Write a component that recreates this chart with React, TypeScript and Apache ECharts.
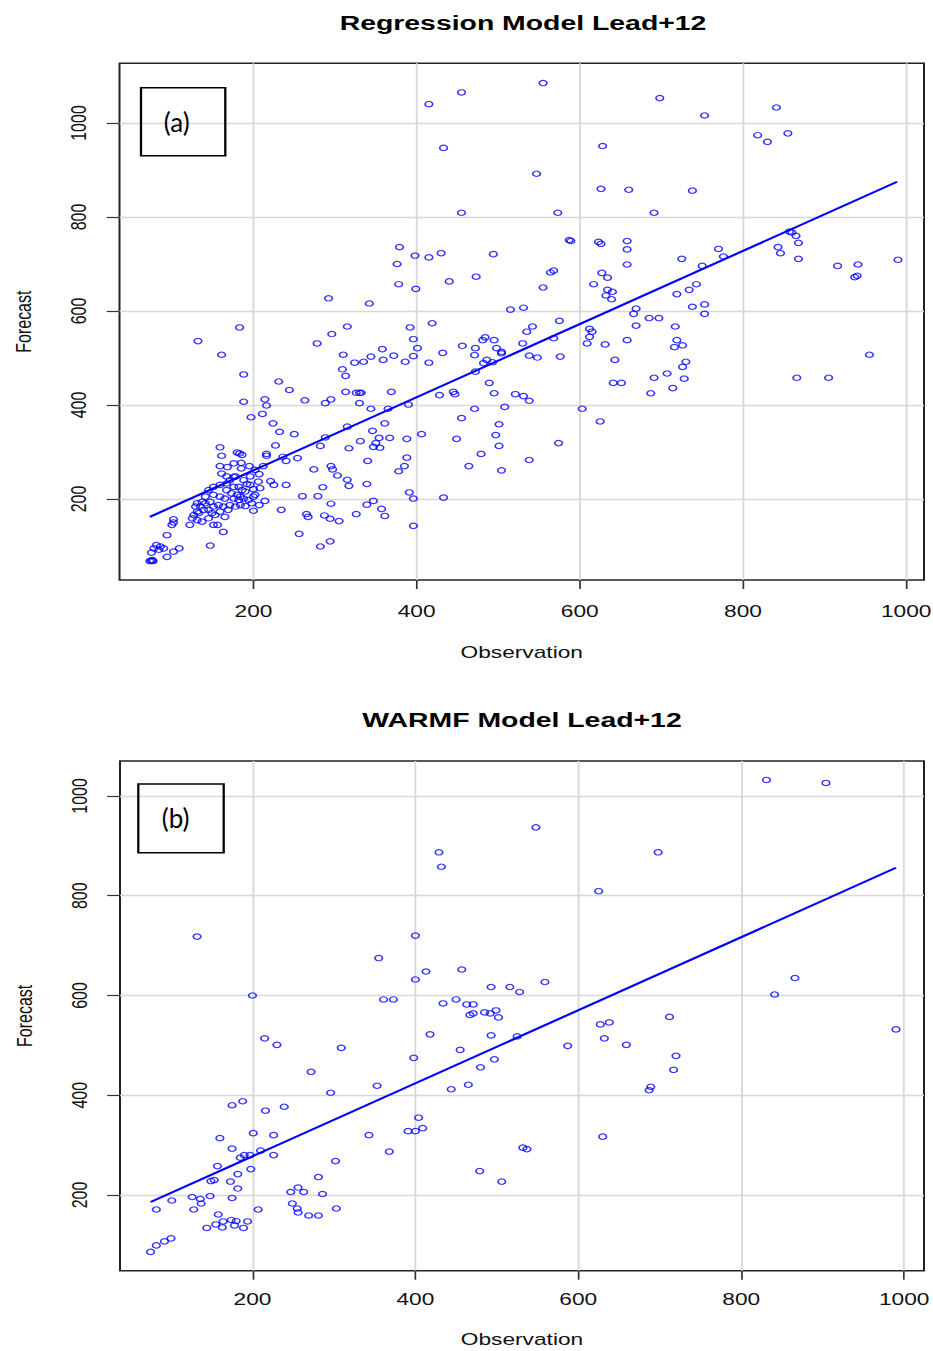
import React, { useEffect, useRef } from "react";
import * as echarts from "echarts";

// The reference image is horizontally stretched; render narrow and stretch with CSS.
const S = 1.42;
const W = 933 / S;
const H = 1351;
const FONT = "'Liberation Sans', Arial, sans-serif";

const titleA = "Regression Model Lead+12";
const titleB = "WARMF Model Lead+12";
const xName = "Observation";
const yName = "Forecast";
const tickValues = [200, 400, 600, 800, 1000];

// [Observation, Forecast] — Regression model
const regressionPoints: number[][] = [
  [379,736],[398,718],[376,700],[378,657],[399,647],[292,627],[342,616],[183,565],[315,567],[392,565],
  [415,1040],[455,1065],[555,1085],[698,1053],[753,1016],[433,947],[628,951],[547,892],[626,860],[660,858],
  [738,856],[455,809],[573,809],[691,809],[587,751],[589,749],[623,747],[626,743],[658,749],[658,731],
  [658,699],[725,711],[770,732],[750,696],[415,714],[430,723],[494,721],[440,663],[473,673],[555,650],
  [564,682],[568,686],[627,681],[634,671],[617,657],[634,645],[640,641],[632,633],[639,625],[719,636],
  [734,645],[743,657],[669,605],[666,594],[685,585],[697,585],[738,609],[753,614],[753,594],[515,603],
  [531,607],[419,574],[575,579],[542,567],[669,569],[717,567],[612,562],
  [841,1033],[818,974],[830,960],[855,978],[776,716],[857,769],[860,767],[865,760],[868,745],[843,736],
  [846,723],[868,711],[916,696],[941,699],[937,672],[940,675],[990,709],
  [658,538],[719,538],[716,523],[726,527],[730,492],[726,481],[707,467],[691,458],[728,456],[651,447],
  [714,436],[687,425],[866,458],[905,458],[955,507],
  [296,551],[396,540],[401,521],[358,519],[372,505],[396,504],[386,492],[359,496],[344,503],[335,492],
  [324,490],[310,507],[309,476],[313,462],[415,490],[432,511],[456,526],[472,521],[471,506],[481,538],
  [484,544],[495,538],[498,521],[504,513],[504,510],[530,531],[535,556],[568,542],[538,505],[548,501],
  [576,503],[482,489],[486,496],[493,491],[472,471],[489,447],[495,425],[521,423],[531,419],[538,409],
  [508,396],[471,392],[455,372],[501,359],[497,336],[501,313],[479,296],[449,328],[464,270],[504,261],
  [538,283],[574,319],[603,392],[625,365],[631,529],[643,496],[641,447],[609,531],[612,545],[615,556],
  [445,428],[447,423],[428,421],[390,401],[365,392],[369,428],[344,392],[330,404],[326,426],[330,426],
  [332,426],[313,428],[295,412],[288,404],[361,361],[346,345],[354,330],[367,330],[350,319],[355,309],
  [347,311],[331,323],[317,308],[315,354],[288,331],[282,313],[388,328],[406,338],[340,281],[388,288],
  [385,270],[378,259],[295,270],[297,263],[303,250],[315,241],[317,228],[339,232],[285,225],[391,214],
  [396,201],[433,203],[295,190],[347,196],[339,188],[357,179],[361,164],[326,168],[287,165],[294,158],
  [305,153],[396,143],[294,110],[282,99],
  [132,536],[161,507],[278,531],[188,465],[231,450],[244,432],[263,410],[188,407],[214,412],[216,399],
  [211,381],[197,374],[224,361],[232,343],[250,338],[227,314],[274,263],[159,310],[161,292],[180,299],
  [186,294],[183,297],[159,270],[168,268],[176,276],[185,277],[185,265],[195,270],[161,254],[176,247],
  [216,296],[216,292],[236,290],[240,281],[254,287],[212,270],[207,253],[206,237],[208,223],[221,238],
  [225,230],[240,230],[196,230],[202,209],[200,205],[214,196],[207,187],[200,175],[234,177],[260,206],
  [279,206],[265,168],[267,162],[256,126],[147,101],
  [171,240],[178,248],[167,233],[176,226],[182,226],[167,219],[173,212],[180,209],[186,219],[190,216],
  [159,205],[165,201],[176,201],[182,198],[188,201],[194,198],[151,209],[147,194],[141,191],[137,194],
  [135,184],[129,184],[139,177],[145,177],[151,184],[157,187],[163,184],[159,173],[153,166],[149,170],
  [133,170],[127,166],[125,159],[131,155],[137,152],[122,145],[145,159],[165,162],[169,177],[171,187],
  [178,184],[184,187],[190,185],[198,191],[131,173],[151,145],[156,145],[163,130],[102,157],[102,150],
  [100,145],[94,123],[81,102],[78,95],[84,92],[90,95],[86,99],[94,77],[102,88],[109,95],
  [75,86],[73,68],[75,69],[77,68],[76,70],[196,248],[202,262],[188,240],[192,232],[167,248],
  [151,226],[145,219],[141,205],[131,191],[159,230],[184,205],[200,221],
];

// [Observation, Forecast] — WARMF model
const warmfPoints: number[][] = [
  [132,718],[400,720],[355,675],[400,632],[361,592],[373,592],[200,600],[215,514],[230,501],[309,495],
  [272,447],[398,475],[353,419],[296,405],[175,380],[188,388],[216,369],[239,377],[201,324],[226,320],
  [160,314],[175,293],[185,275],[190,280],[197,280],[210,289],[226,280],[343,320],[368,287],[302,268],
  [157,258],[198,252],[182,242],[149,228],[153,230],[173,227],[182,213],[281,236],[256,215],[247,206],
  [263,206],[286,202],[126,196],[136,192],[148,198],[175,194],[101,189],[137,183],[82,171],[128,171],
  [207,171],[249,183],[255,173],[256,165],[269,159],[281,159],[303,173],[158,161],[144,134],[155,141],
  [163,135],[164,147],[174,150],[180,148],[178,139],[189,134],[194,147],[75,86],[82,99],[92,107],
  [100,113],[404,355],[391,328],[400,328],[409,334],
  [831,1032],[904,1026],[548,937],[429,887],[432,858],[698,887],[625,809],[413,648],[457,652],[559,627],
  [493,617],[516,617],[528,607],[866,635],[841,602],[434,584],[450,592],[463,582],[471,582],[467,561],
  [471,564],[485,566],[492,564],[499,570],[502,556],[418,522],[493,520],[525,518],[455,491],[587,499],
  [627,542],[638,546],[632,514],[659,501],[712,557],[720,479],[717,451],[689,417],[687,410],[990,532],
  [497,472],[480,456],[444,412],[465,421],[630,317],[532,295],[537,292],[479,248],[506,227],
];

// Fitted lines (end points)
const regressionFit: number[][] = [[73, 162], [989, 875]];
const warmfFit: number[][] = [[75, 186], [990, 856]];

// Axis ranges (R's 4% padded ranges)
const xRangeA = [35.8, 1021.9];
const yRangeA = [27.7, 1127];
const xRangeB = [37.4, 1024.4];
const yRangeB = [48.3, 1070];

const textColor = "#111";
const plain = (v: number) => String(v);

function xAxisCfg(gridIndex: number, range: number[], labelMargin: number, nameGap: number) {
  return {
    type: "value",
    gridIndex,
    min: range[0],
    max: range[1],
    name: xName,
    nameLocation: "middle",
    nameGap,
    nameTextStyle: { fontFamily: FONT, fontSize: 16, color: textColor },
    axisLine: { show: false },
    axisTick: { show: true, customValues: tickValues, length: 9, inside: false, lineStyle: { color: "#333", width: 1.2 } },
    axisLabel: { customValues: tickValues, formatter: plain, margin: labelMargin, fontFamily: FONT, fontSize: 16, color: textColor },
    splitLine: { show: true, lineStyle: { color: "#d8d8d8", width: 1.3 } },
  };
}

function yAxisCfg(gridIndex: number, range: number[]) {
  return {
    type: "value",
    gridIndex,
    min: range[0],
    max: range[1],
    name: yName,
    nameLocation: "middle",
    nameGap: 60,
    nameTextStyle: { fontFamily: FONT, fontSize: 16, color: textColor },
    axisLine: { show: false },
    axisTick: { show: true, customValues: tickValues, length: 9, inside: false, lineStyle: { color: "#333", width: 1.2 } },
    axisLabel: { customValues: tickValues, formatter: plain, rotate: 90, margin: 21, fontFamily: FONT, fontSize: 16, color: textColor },
    splitLine: { show: true, lineStyle: { color: "#d8d8d8", width: 1.3 } },
  };
}

function scatterSeries(idx: number, data: number[][]) {
  return {
    type: "scatter",
    xAxisIndex: idx,
    yAxisIndex: idx,
    data,
    symbol: "circle",
    symbolSize: 5.4,
    itemStyle: { color: "rgba(0,0,0,0)", borderColor: "#0000ff", borderWidth: 1.15 },
    z: 3,
  };
}

function lineSeries(idx: number, data: number[][]) {
  return {
    type: "line",
    xAxisIndex: idx,
    yAxisIndex: idx,
    data,
    showSymbol: false,
    symbol: "none",
    lineStyle: { color: "#0000ff", width: 2 },
    z: 4,
  };
}

function labelBox(x: number, y: number, w: number, h: number, tx: number, ty: number, text: string) {
  return [
    {
      type: "rect",
      shape: { x, y, width: w, height: h },
      style: { fill: "none", stroke: "#000", lineWidth: 1.6 },
      z: 10,
    },
    {
      type: "text",
      x: tx,
      y: ty,
      scaleX: 1 / S,
      style: {
        text,
        fill: "#000",
        font: "26px Lato, 'Open Sans', sans-serif",
        textAlign: "center",
        textVerticalAlign: "middle",
      },
      z: 10,
    },
  ];
}

const gridBase = {
  show: true,
  borderColor: "#222",
  borderWidth: 1.4,
  backgroundColor: "transparent",
  containLabel: false,
  outerBoundsMode: "none",
};

const option = {
  animation: false,
  backgroundColor: "#fff",
  grid: [
    { ...gridBase, left: 119.5 / S, top: 63.3, width: (924 - 119.5) / S, height: 580 - 63.3 },
    { ...gridBase, left: 120 / S, top: 761, width: (924 - 120) / S, height: 1270.7 - 761 },
  ],
  xAxis: [xAxisCfg(0, xRangeA, 23, 64), xAxisCfg(1, xRangeB, 21, 61)],
  yAxis: [yAxisCfg(0, yRangeA), yAxisCfg(1, yRangeB)],
  series: [
    scatterSeries(0, regressionPoints),
    lineSeries(0, regressionFit),
    scatterSeries(1, warmfPoints),
    lineSeries(1, warmfFit),
  ],
  graphic: [
    {
      type: "text",
      x: 523 / S,
      y: 23,
      style: { text: titleA, fill: "#000", font: `bold 20px ${FONT}`, textAlign: "center", textVerticalAlign: "middle" },
    },
    {
      type: "text",
      x: 522 / S,
      y: 720,
      style: { text: titleB, fill: "#000", font: `bold 20px ${FONT}`, textAlign: "center", textVerticalAlign: "middle" },
    },
    ...labelBox(141 / S, 87.7, (225.3 - 141) / S, 68, 176.7 / S, 122, "(a)"),
    ...labelBox(138.3 / S, 784, (223.7 - 138.3) / S, 68.7, 175.7 / S, 818, "(b)"),
  ],
};

export default function App() {
  const ref = useRef<HTMLDivElement>(null);
  useEffect(() => {
    document.body.style.overflow = "hidden";
    const chart = echarts.init(ref.current as HTMLDivElement, null, { renderer: "svg" });
    chart.setOption(option as any);
    return () => chart.dispose();
  }, []);
  return (
    <div
      ref={ref}
      style={{
        position: "absolute",
        left: 0,
        top: 0,
        width: W,
        height: H,
        transform: `scaleX(${S})`,
        transformOrigin: "0 0",
      }}
    />
  );
}
